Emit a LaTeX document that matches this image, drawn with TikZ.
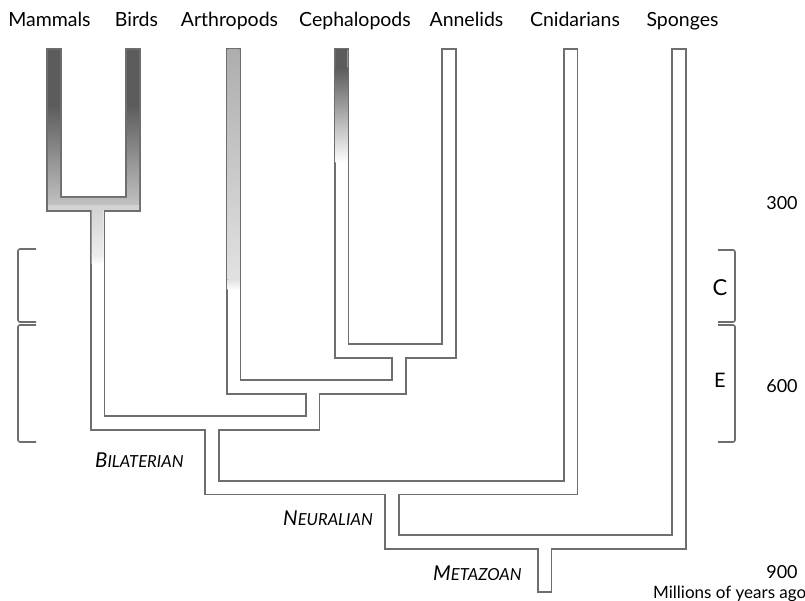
\documentclass[tikz,border=0pt]{standalone}
\usepackage{fontspec}
\setmainfont{Lato}
\usetikzlibrary{positioning}
\definecolor{tubeline}{HTML}{6E6E6E}
\definecolor{darkfill}{HTML}{5C5C5C}
\definecolor{midfill}{HTML}{C2C2C2}
\definecolor{stemfill}{HTML}{D2D2D2}
\definecolor{lightfill}{HTML}{ADADAD}
\definecolor{palefill}{HTML}{E2E2E2}
\newcommand{\cladename}[2]{{\fontsize{20.5}{20.5}\selectfont #1}{\fontsize{16.6}{16.6}\selectfont #2}}
\tikzset{
  tube/.style={draw=tubeline, line width=1.6pt, double=white, double distance=12pt, line cap=rect},
  taxon/.style={anchor=base, inner sep=0pt, font=\fontsize{19.5}{19.5}\selectfont},
  age/.style={anchor=base, inner sep=0pt, font=\fontsize{18}{18}\selectfont},
  clade/.style={anchor=base west, inner sep=0pt, font=\itshape},
  bracket/.style={draw=tubeline, line width=1.6pt, rounded corners=2pt},
}

\begin{document}
\begin{tikzpicture}[x=1pt, y=-1pt]
            \useasboundingbox (0,0) rectangle (805,601);

            % taxa
            \node[taxon] (lmam) at (49.5,27) {Mammals};
            \node[taxon] (lbir) at (136.5,27) {Birds};
            \node[taxon] (lart) at (229.5,27) {Arthropods};
            \node[taxon] (lcep) at (355,27) {Cephalopods};
            \node[taxon] (lann) at (466.5,27) {Annelids};
            \node[taxon] (lcni) at (575,27) {Cnidarians};
            \node[taxon] (lspo) at (682.5,27) {Sponges};

            % tips and branch points
            \coordinate (mam) at (54,56);
            \coordinate (bir) at (133,56);
            \coordinate (art) at (233.5,56);
            \coordinate (cep) at (341.5,56);
            \coordinate (ann) at (449,56);
            \coordinate (cni) at (570.5,56);
            \coordinate (spo) at (679,56);
            \coordinate (mb) at (97.5,204);
            \coordinate (ca) at (399,351);
            \coordinate (aca) at (312.5,387);
            \coordinate (bil) at (212,423);
            \coordinate (neu) at (392,487.5);
            \coordinate (met) at (544.5,542);
            \coordinate (root) at (544.5,585);

            \draw[tube]
              (mam) |- (mb) -| (bir)
              (mb) |- (bil) -| (aca)
              (art) |- (aca) -| (ca)
              (cep) |- (ca) -| (ann)
              (bil) |- (neu) -| (cni)
              (neu) |- (met) -| (spo)
              (met) -- (root);

            % shading inside the tubes
            \begin{scope}
              \clip (48,50) rectangle (60,210) (127,50) rectangle (139,210)
                    (48,198) rectangle (139,210) (91.5,198) rectangle (103.5,270);
              \fill[darkfill] (40,40) rectangle (145,105);
              \shade[top color=darkfill, bottom color=midfill] (40,105) rectangle (145,206);
              \shade[top color=stemfill, bottom color=palefill!60!white] (40,206) rectangle (145,256);
              \shade[top color=palefill!60!white, bottom color=white] (40,256) rectangle (145,264);
            \end{scope}
            \begin{scope}
              \clip (227.5,50) rectangle (239.5,300);
              \shade[top color=lightfill, bottom color=palefill] (220,48) rectangle (245,280);
              \shade[top color=palefill, bottom color=white] (220,280) rectangle (245,290);
            \end{scope}
            \begin{scope}
              \clip (335.5,50) rectangle (347.5,200);
              \fill[darkfill] (330,45) rectangle (350,68);
              \shade[top color=darkfill, bottom color=white] (330,68) rectangle (350,163);
            \end{scope}

            % clades
            \node[clade] (lbil) at (95,467) {\cladename{B}{ILATERIAN}};
            \node[clade] (lneu) at (283,525) {\cladename{N}{EURALIAN}};
            \node[clade] (lmet) at (433,580) {\cladename{M}{ETAZOAN}};

            % periods
            \draw[bracket] (36,249) -- (18,249) -- (18,322) -- (36,322);
            \draw[bracket] (36,325) -- (18,325) -- (18,442) -- (36,442);
            \draw[bracket] (718,250) -- (735,250) -- (735,322) -- (718,322);
            \draw[bracket] (718,325) -- (735,325) -- (735,442) -- (718,442);
            \node[anchor=base, inner sep=0pt, font=\fontsize{22}{22}\selectfont] (lc) at (720,295) {C};
            \node[anchor=base, inner sep=0pt, font=\fontsize{20}{20}\selectfont] (le) at (720,387) {E};

            % time scale
            \node[age] (t300) at (782,210) {300};
            \node[age] (t600) at (782,392) {600};
            \node[age] (t900) at (782,578) {900};
            \node[anchor=base west, inner sep=0pt, font=\fontsize{17}{17}\selectfont] (lmya) at (653,598) {Millions of years ago};
        \end{tikzpicture}
\end{document}
